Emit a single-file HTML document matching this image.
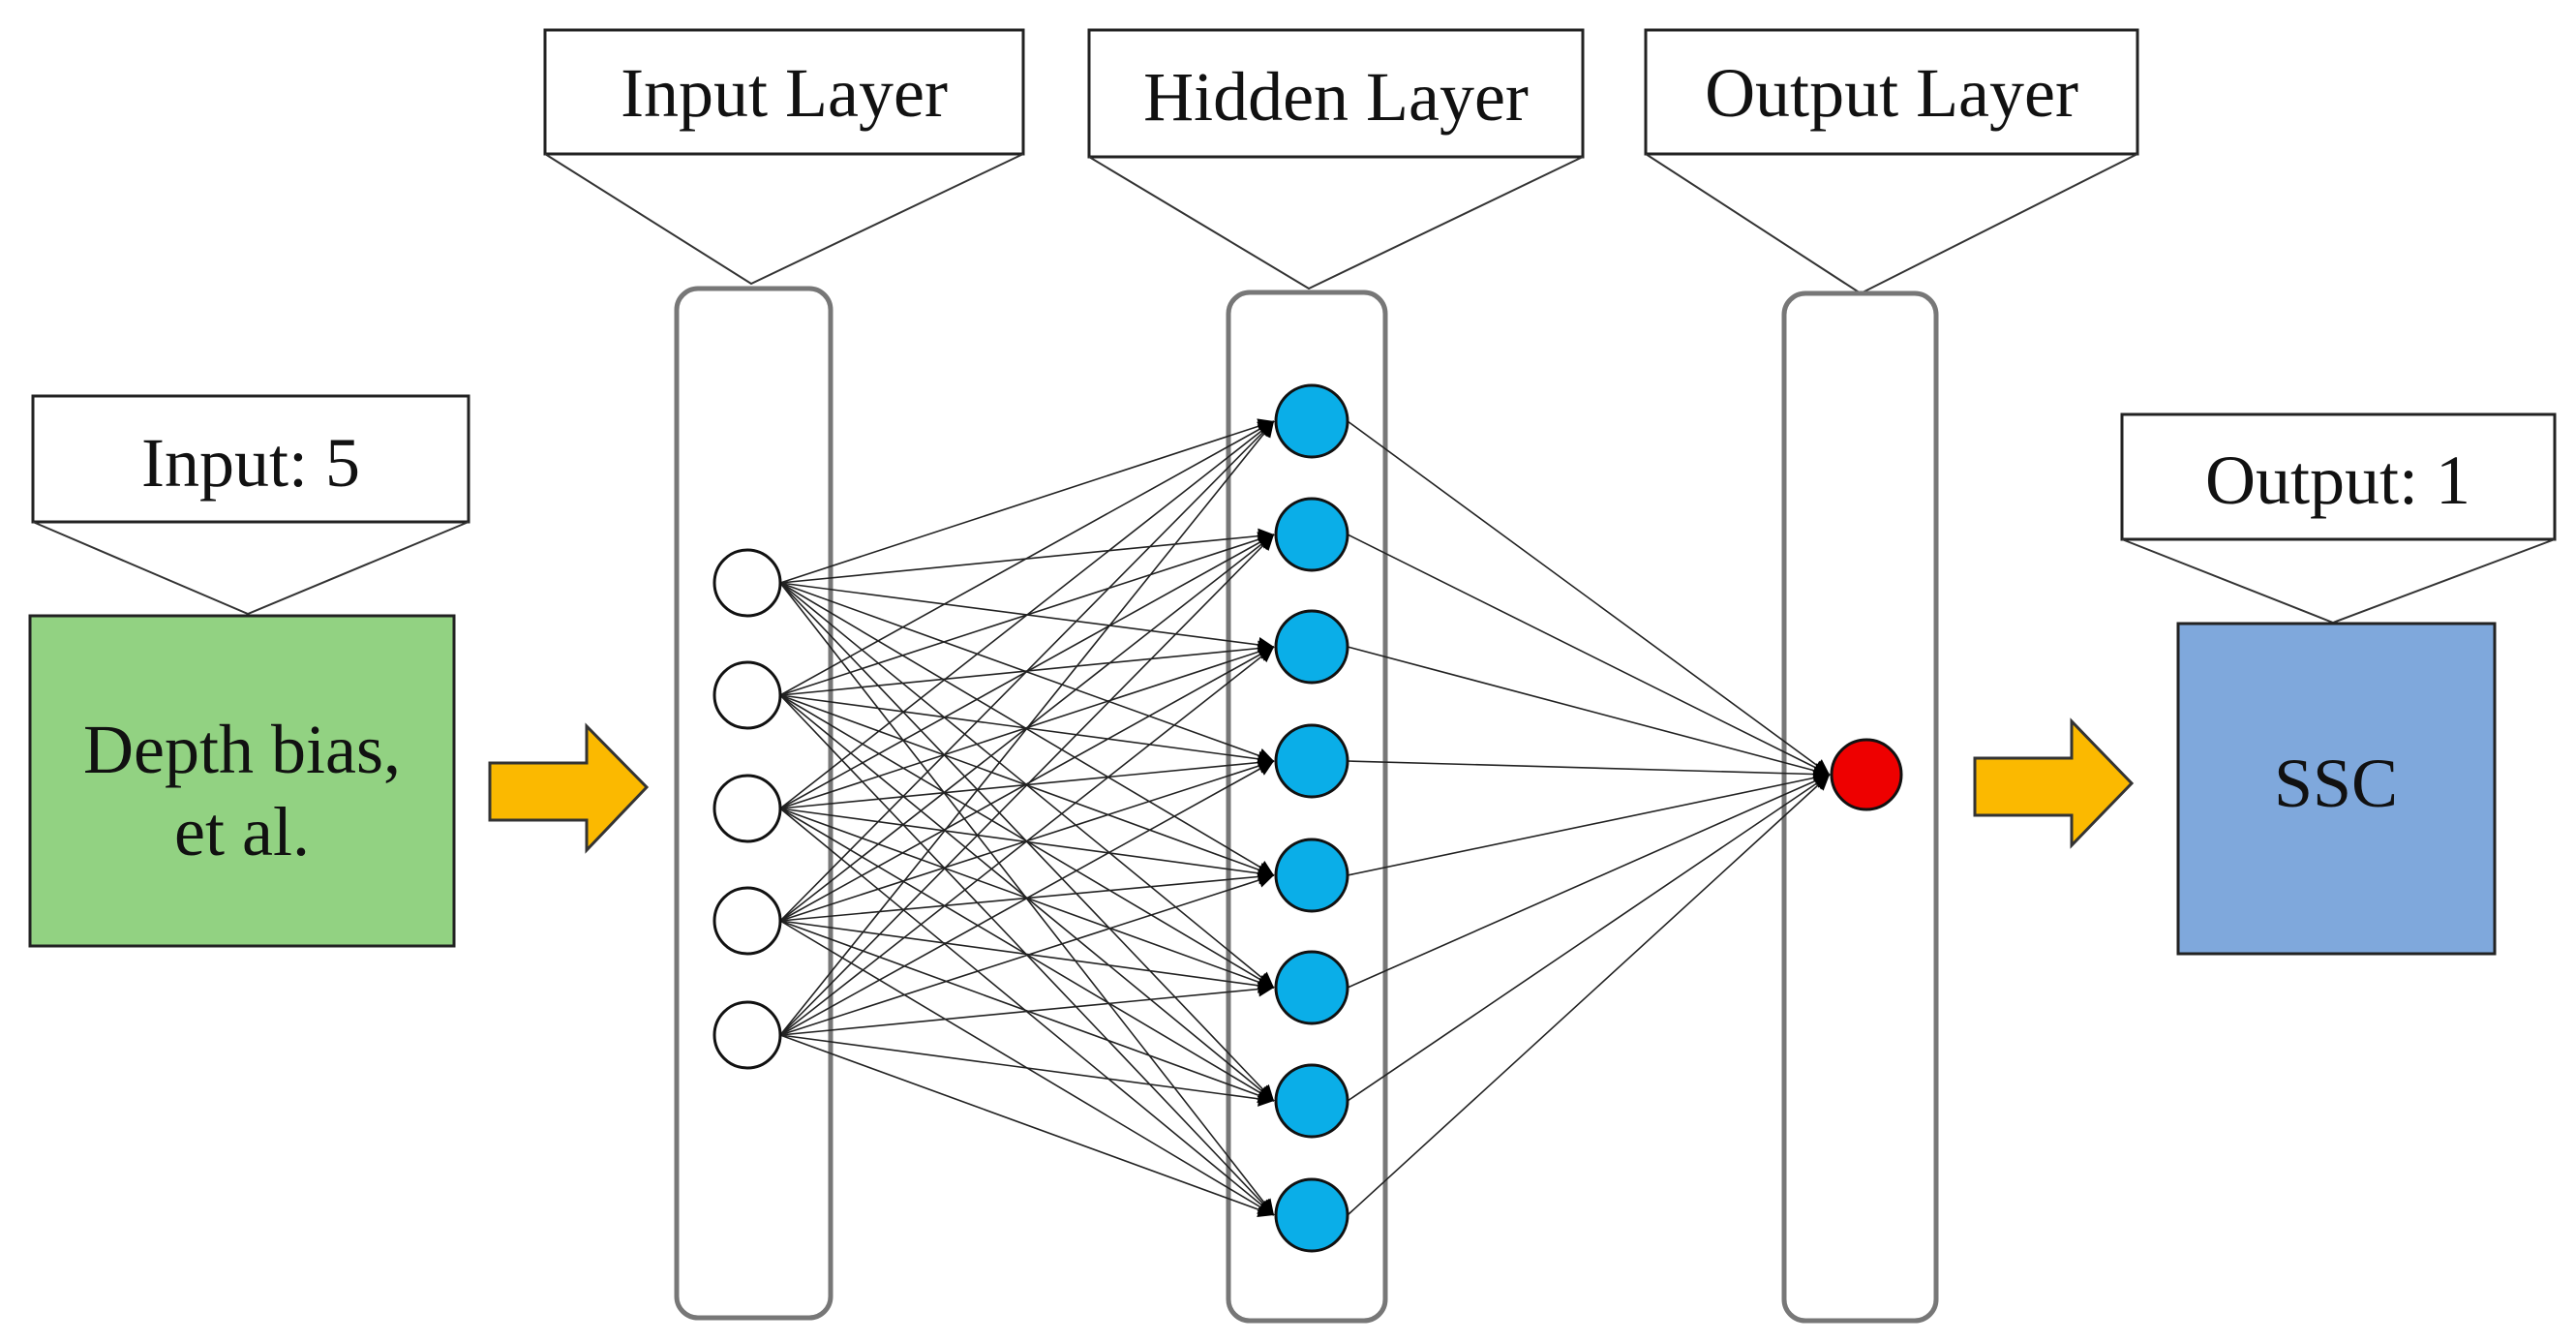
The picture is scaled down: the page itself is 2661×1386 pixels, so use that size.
<!DOCTYPE html>
<html><head><meta charset="utf-8"><style>
html,body{margin:0;padding:0;background:#fff;width:2661px;height:1386px;overflow:hidden}
svg{display:block}
text{font-family:"Liberation Serif",serif;fill:#111}
</style></head><body>
<svg id="s" width="2661" height="1386" viewBox="0 0 2661 1386" xmlns="http://www.w3.org/2000/svg">
<defs>
<marker id="ah" viewBox="0 0 10 10" refX="10" refY="5" markerWidth="18" markerHeight="16" markerUnits="userSpaceOnUse" orient="auto">
<path d="M0,0 L10,5 L0,10 z" fill="#000"/></marker>
</defs>
<g fill="#fff" stroke="#222" stroke-width="3">
<rect x="563" y="31" width="494" height="128"/>
<rect x="1125" y="31" width="510" height="131"/>
<rect x="1700" y="31" width="508" height="128"/>
<rect x="34" y="409" width="450" height="130"/>
<rect x="2192" y="428" width="447" height="129"/>
</g>
<g fill="none" stroke="#333" stroke-width="2">
<polyline points="563,159 776,293 1057,159"/>
<polyline points="1125,162 1352,298 1635,162"/>
<polyline points="1700,159 1922,303 2208,159"/>
<polyline points="34,539 256,634 484,539"/>
<polyline points="2192,557 2410,643 2639,557"/>
</g>
<g fill="#fff" stroke="#777" stroke-width="5">
<rect x="699" y="298" width="159" height="1063" rx="22"/>
<rect x="1269" y="302" width="162" height="1062" rx="22"/>
<rect x="1843" y="303" width="157" height="1061" rx="22"/>
</g>
<rect x="31" y="636" width="438" height="341" fill="#92d282" stroke="#222" stroke-width="3"/>
<rect x="2250" y="644" width="327" height="341" fill="#7fa8dc" stroke="#222" stroke-width="3"/>
<g fill="#fbb900" stroke="#333" stroke-width="3">
<polygon points="506,788 606,788 606,750 668,813 606,878 606,847 506,847"/>
<polygon points="2040,783 2140,783 2140,745 2202,809 2140,873 2140,842 2040,842"/>
</g>
<g id="lines" stroke="#222" stroke-width="1.6" fill="none"></g>
<g id="nodes"></g>
<g text-anchor="middle" font-size="72">
<text x="810" y="120">Input Layer</text>
<text x="1380" y="124">Hidden Layer</text>
<text x="1954" y="120">Output Layer</text>
<text x="259" y="502">Input: 5</text>
<text x="2415" y="520">Output: 1</text>
<text x="250" y="798">Depth bias,</text>
<text x="250" y="883">et al.</text>
<text x="2413" y="833" font-size="72" fill="#1a2440">SSC</text>
</g>
</svg>
<script>
var NS="http://www.w3.org/2000/svg";
var L=document.getElementById("lines"),N=document.getElementById("nodes");
var iy=[602,718,835,951,1069],hy=[435,552,668,786,904,1020,1137,1255];
var ix=772,hx=1355,ri=34,rh=37,ox=1928,oy=800,ro=36;
function ln(x1,y1,x2,y2){var l=document.createElementNS(NS,"line");l.setAttribute("x1",x1);l.setAttribute("y1",y1);l.setAttribute("x2",x2);l.setAttribute("y2",y2);l.setAttribute("marker-end","url(#ah)");L.appendChild(l);}
function c(x,y,r,f,sw){var e=document.createElementNS(NS,"circle");e.setAttribute("cx",x);e.setAttribute("cy",y);e.setAttribute("r",r);e.setAttribute("fill",f);e.setAttribute("stroke","#111");e.setAttribute("stroke-width",sw);N.appendChild(e);}
iy.forEach(function(a){hy.forEach(function(b){ln(ix+ri,a,hx-rh-2,b);});});
hy.forEach(function(b){ln(hx+rh,b,ox-ro-2,oy);});
iy.forEach(function(a){c(ix,a,ri,"#fff",3);});
hy.forEach(function(b){c(hx,b,rh,"#0aaee8",3);});
c(ox,oy,ro,"#ee0000",3);
</script>
</body></html>
